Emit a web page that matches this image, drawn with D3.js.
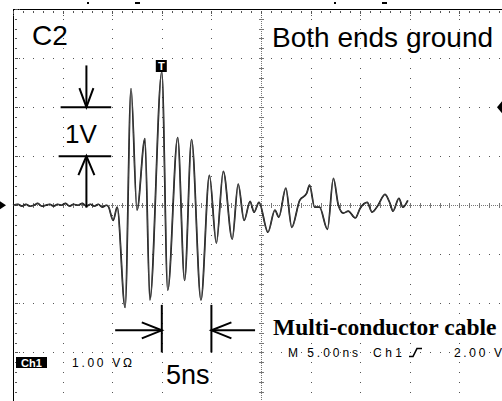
<!DOCTYPE html>
<html><head><meta charset="utf-8">
<script src="https://cdn.jsdelivr.net/npm/d3@7"></script>
<style>body{margin:0;background:#fff}svg{display:block}</style>
</head><body>
<svg id="c" width="502" height="401"></svg>
<script>
// Waveform samples: time (ns, 0 = screen centre) and voltage (V)
const timeNs = [-25.0,-24.5,-24.1,-23.7,-23.3,-22.9,-22.5,-22.1,-21.7,-21.3,-20.9,-20.5,-20.1,-19.7,-19.3,-18.9,-18.45,-18.0,-17.6,-17.2,-16.8,-16.4,-16.0,-15.6,-15.4,
  -14.9,-14.5,-13.7,-13.1,-12.5,-11.7,-11.2,-10.0,-9.4,-8.4,-7.7,-7.0,-6.05,-5.2,-4.5,-3.8,-2.9,-2.3,-1.7,-1.1,-0.7,-0.2,
  0.7,1.4,1.8,2.5,3.1,3.9,4.6,4.9,5.4,5.9,6.7,7.3,7.8,8.3,8.8,9.5,10.0,10.7,11.2,11.8,12.5,13.0,13.3,13.9,14.3,14.8];
const volts = [0,0.02,-0.02,0.02,-0.02,0,0.04,-0.02,0,0.02,-0.02,0.02,0,0.04,-0.02,0.02,0,0.04,-0.02,0.02,-0.02,0.02,-0.04,0,-0.02,
  -0.31,-0.04,-2.08,2.38,-0.10,1.36,-1.93,2.72,-1.73,1.38,-1.53,1.34,-1.93,0.61,-0.77,0.69,-0.69,0.43,-0.31,0.08,-0.14,0.06,
  -0.55,-0.10,-0.24,0.35,-0.45,0.10,0.24,0.41,-0.04,-0.04,-0.49,0.55,0,-0.16,-0.12,-0.26,-0.06,0.06,-0.14,0,0.22,0.04,-0.12,0.14,-0.04,0.10];

// Scope settings / labels
const channelLabel = "C2";
const titleLabel = "Both ends ground";
const cableLabel = "Multi-conductor cable";
const voltMarkLabel = "1V";
const timeMarkLabel = "5ns";
const chBoxLabel = "Ch1";
const vScaleLabel = "1.00 V\u03A9";
const statusLabels = ["M 5.00ns", "Ch1", "2.00 V"];

const svg = d3.select("#c");
svg.append("rect").attr("width",502).attr("height",401).attr("fill","#fff");

const x = d3.scaleLinear().domain([-25,25]).range([13,509]);
const y = d3.scaleLinear().domain([-4,4]).range([401.5,9]);

const g = svg.append("g");
const gridCol = "#555";
const majorT = d3.range(-25,25.01,5);
const majorV = d3.range(-4,4.01,1);
const minorT = d3.range(-25,25.01,1);
const minorV = d3.range(-4,4.01,0.2);

// dotted grid lines (non-centre)
majorT.filter(t=>t!==0 && t!==-25).forEach(t=>{
  g.selectAll(null).data(minorV).enter().append("rect")
   .attr("x",Math.round(x(t))).attr("y",v=>Math.round(y(v))).attr("width",1).attr("height",1).attr("fill",gridCol);
});
majorV.filter(v=>v!==0 && v!==4).forEach(v=>{
  g.selectAll(null).data(minorT).enter().append("rect")
   .attr("x",t=>Math.round(x(t))).attr("y",Math.round(y(v))).attr("width",1).attr("height",1).attr("fill",gridCol);
});
// centre axes
const cx = Math.round(x(0)), cy = Math.round(y(0));
g.append("line").attr("x1",cx+0.5).attr("x2",cx+0.5).attr("y1",9).attr("y2",401)
  .attr("stroke","#777").attr("stroke-dasharray","1,1");
g.append("line").attr("y1",cy+0.5).attr("y2",cy+0.5).attr("x1",13).attr("x2",502)
  .attr("stroke","#777").attr("stroke-dasharray","1,1");
g.selectAll(null).data(minorV).enter().append("line")
  .attr("x1",cx-2).attr("x2",cx+3).attr("y1",v=>Math.round(y(v))+0.5).attr("y2",v=>Math.round(y(v))+0.5)
  .attr("stroke","#777");
g.selectAll(null).data(minorT).enter().append("line")
  .attr("y1",cy-2).attr("y2",cy+3).attr("x1",t=>Math.round(x(t))+0.5).attr("x2",t=>Math.round(x(t))+0.5)
  .attr("stroke","#777");
// borders with inward ticks
g.append("line").attr("x1",13).attr("x2",502).attr("y1",9.5).attr("y2",9.5).attr("stroke","#000");
g.append("line").attr("x1",13.5).attr("x2",13.5).attr("y1",9).attr("y2",401).attr("stroke","#000");
g.selectAll(null).data(minorT).enter().append("rect")
  .attr("x",t=>Math.round(x(t))).attr("y",11).attr("width",1).attr("height",2).attr("fill",gridCol);
g.selectAll(null).data(minorV).enter().append("rect")
  .attr("x",15).attr("y",v=>Math.round(y(v))).attr("width",2).attr("height",1).attr("fill",gridCol);
majorT.forEach(t=>{
  g.selectAll(null).data([11,13,15]).enter().append("rect")
   .attr("x",Math.round(x(t))).attr("y",d=>d).attr("width",1).attr("height",1).attr("fill",gridCol);
});
majorV.forEach(v=>{
  g.selectAll(null).data([15,17,19]).enter().append("rect")
   .attr("x",d=>d).attr("y",Math.round(y(v))).attr("width",1).attr("height",1).attr("fill",gridCol);
});

// top indicator marks
[[87,2,2,2],[135,2,5,2],[334,2,2,2],[382,2,5,2]].forEach(r=>
  svg.append("rect").attr("x",r[0]).attr("y",r[1]).attr("width",r[2]).attr("height",r[3]).attr("fill","#000"));

// waveform
const pts = timeNs.map((t,i)=>[t,volts[i]]);
const line = d3.line().x(d=>x(d[0])).y(d=>y(d[1])).curve(d3.curveMonotoneX);
svg.append("path").attr("d",line(pts)).attr("fill","none").attr("stroke","#000").attr("stroke-width",1.7);
svg.append("path").attr("d",line(pts)).attr("fill","none").attr("stroke","#8a8a8a").attr("stroke-width",0.5);

// ground marker (left) and trigger level marker (right)
svg.append("path").attr("d",`M0,${y(0)-4}L6,${y(0)}L0,${y(0)+4}Z`).attr("fill","#000");
svg.append("path").attr("d",`M497,${y(2)}L502,${y(2)-6}L502,${y(2)+6}Z`).attr("fill","#000");
// trigger position "T"
svg.append("rect").attr("x",x(-10)-6).attr("y",60).attr("width",11).attr("height",12).attr("fill","#000");
svg.append("text").attr("x",x(-10)-0.5).attr("y",70).attr("text-anchor","middle")
  .attr("font-family","Liberation Sans").attr("font-weight","bold").attr("font-size",11).attr("fill","#fff").text("T");

// annotations
const ann = svg.append("g").attr("stroke","#000").attr("stroke-width",2).attr("fill","none");
const ax = x(-17.6);
ann.append("line").attr("x1",x(-20.2)).attr("x2",x(-15.1)).attr("y1",y(2)).attr("y2",y(2));
ann.append("line").attr("x1",x(-20.4)).attr("x2",x(-15.1)).attr("y1",y(1)).attr("y2",y(1));
ann.append("line").attr("x1",ax).attr("x2",ax).attr("y1",y(2.85)).attr("y2",y(2));
ann.append("path").attr("d",`M${ax-7},${y(2)-19}L${ax},${y(2)}L${ax+7},${y(2)-19}`);
ann.append("line").attr("x1",ax).attr("x2",ax).attr("y1",y(1)).attr("y2",y(-0.05));
ann.append("path").attr("d",`M${ax-8},${y(1)+19}L${ax},${y(1)}L${ax+8},${y(1)+19}`);
const t1 = x(-10), t2 = x(-5), ay = y(-2.55);
ann.append("line").attr("x1",t1).attr("x2",t1).attr("y1",y(-2.03)).attr("y2",y(-3.0));
ann.append("line").attr("x1",t2).attr("x2",t2).attr("y1",y(-2.03)).attr("y2",y(-3.0));
ann.append("line").attr("x1",x(-14.7)).attr("x2",t1).attr("y1",ay).attr("y2",ay);
ann.append("path").attr("d",`M${t1-20},${ay-8}L${t1},${ay}L${t1-20},${ay+8}`);
ann.append("line").attr("x1",t2).attr("x2",x(-0.6)).attr("y1",ay).attr("y2",ay);
ann.append("path").attr("d",`M${t2+20},${ay-8}L${t2},${ay}L${t2+20},${ay+8}`);

// texts
const sans = "Liberation Sans, Arial, sans-serif";
svg.append("text").attr("x",32).attr("y",45).attr("font-family",sans).attr("font-size",28).text(channelLabel);
svg.append("text").attr("x",272).attr("y",47).attr("font-family",sans).attr("font-size",28).text(titleLabel);
svg.append("text").attr("x",65).attr("y",143).attr("font-family",sans).attr("font-size",26).text(voltMarkLabel);
svg.append("text").attr("x",166).attr("y",384).attr("font-family",sans).attr("font-size",27).text(timeMarkLabel);
svg.append("text").attr("x",273).attr("y",335).attr("font-family","Liberation Serif, Times New Roman, serif")
  .attr("font-weight","bold").attr("font-size",23.5).text(cableLabel);
svg.append("rect").attr("x",16).attr("y",357).attr("width",31).attr("height",11).attr("fill","#000");
svg.append("text").attr("x",31.5).attr("y",366.5).attr("text-anchor","middle").attr("font-family",sans)
  .attr("font-weight","bold").attr("font-size",11).attr("fill","#fff").text(chBoxLabel);
svg.append("text").attr("x",72).attr("y",367).attr("font-family",sans).attr("font-size",12)
  .attr("textLength",60).attr("lengthAdjust","spacing").text(vScaleLabel);
const sPos = [[288,70],[373,29],[454,48]];
statusLabels.forEach((s,i)=>svg.append("text").attr("x",sPos[i][0]).attr("y",357).attr("font-family",sans)
  .attr("font-size",12).attr("textLength",sPos[i][1]).attr("lengthAdjust","spacing").text(s));
// rising-edge trigger symbol
svg.append("path").attr("d","M409,356.5L413,356.5L417,348.5L422,348.5").attr("fill","none").attr("stroke","#000").attr("stroke-width",1.6);
</script>
</body></html>
